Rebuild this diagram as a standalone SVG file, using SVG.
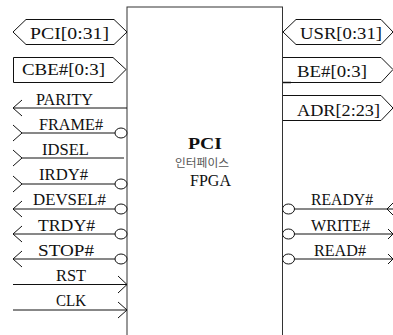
<svg xmlns="http://www.w3.org/2000/svg" width="393" height="335" viewBox="0 0 393 335">
<style>
text{font-family:"Liberation Serif","DejaVu Serif",serif;font-size:16.5px;fill:#111}
.l{fill:none;stroke:#111;stroke-width:1}
.b{fill:#fff;stroke:#111;stroke-width:1}
.k{font-family:"Noto Sans CJK KR",sans-serif;font-size:11.5px;fill:#555}
</style>
<g id="fpga"><rect x="127" y="7" width="155.500" height="340" fill="#fff" stroke="#333"/>
<text x="188" y="149" textLength="34" lengthAdjust="spacingAndGlyphs" style="font-weight:bold">PCI</text><text class="k" x="175" y="167" textLength="54" lengthAdjust="spacingAndGlyphs">인터페이스</text><text x="190" y="186" textLength="41" lengthAdjust="spacingAndGlyphs">FPGA</text></g>
<g id="connectors">
<path class="l" d="M127 108H13M22 100L13 108L22 116"/>
<path class="l" d="M13 125L22 133L13 141M22 133H116"/>
<path class="l" d="M13 150L22 158L13 166M22 158H124"/>
<path class="l" d="M13 176L22 184L13 192M22 184H116"/>
<path class="l" d="M116 209H13M22 201L13 209L22 217"/>
<path class="l" d="M116 234H13M22 226L13 234L22 242"/>
<path class="l" d="M116 259H13M22 251L13 259L22 267"/>
<path class="l" d="M13 284.500H127M118 276L127 284.500L118 293"/>
<path class="l" d="M13 310H127M118 302L127 310L118 318"/>
<path class="l" d="M294 209H393M393 203L387 209L393 215"/>
<path class="l" d="M294 234H393M388 229L393 234L388 239"/>
<path class="l" d="M294 259H393M388 254L393 259L388 264"/>
</g>
<g id="bubbles">
<ellipse class="b" cx="121" cy="133" rx="6" ry="5"/><ellipse class="b" cx="121" cy="184" rx="6" ry="5"/><ellipse class="b" cx="121" cy="209" rx="6" ry="5"/><ellipse class="b" cx="121" cy="234" rx="6" ry="5"/><ellipse class="b" cx="121" cy="259" rx="6" ry="5"/>
<ellipse class="b" cx="288.500" cy="209" rx="6" ry="5"/><ellipse class="b" cx="288.500" cy="234" rx="6" ry="5"/><ellipse class="b" cx="288.500" cy="259" rx="6" ry="5"/>
</g>
<g id="pci"><path class="b" d="M13 32L26 19.500H114L127 32L114 44.500H26Z"/><text x="30" y="39" textLength="79" lengthAdjust="spacingAndGlyphs">PCI[0:31]</text></g>
<g id="cbe"><path class="b" d="M13.500 57.500H113L126 69.500L113 82.500H13.500Z"/><text x="22" y="75" textLength="83" lengthAdjust="spacingAndGlyphs">CBE#[0:3]</text></g>
<g id="usr"><path class="b" d="M283 32L296 19.500H381L393 32L381 44.500H296Z"/><text x="300" y="39" textLength="82" lengthAdjust="spacingAndGlyphs">USR[0:31]</text></g>
<g id="be"><path class="b" d="M283 57.500H381L393 69.500L381 82.500H283"/><path d="M283 82.500H291" stroke="#111" stroke-width="1.500"/><text x="297" y="77" textLength="70" lengthAdjust="spacingAndGlyphs">BE#[0:3]</text></g>
<g id="adr"><path class="b" d="M283 95.500H381L393 108L381 120.500H283"/><text x="297" y="116" textLength="83" lengthAdjust="spacingAndGlyphs">ADR[2:23]</text></g>
<g id="labels">
<text x="36" y="105" textLength="57" lengthAdjust="spacingAndGlyphs">PARITY</text>
<text x="39" y="130" textLength="64" lengthAdjust="spacingAndGlyphs">FRAME#</text>
<text x="42" y="155" textLength="47" lengthAdjust="spacingAndGlyphs">IDSEL</text>
<text x="39" y="180" textLength="49" lengthAdjust="spacingAndGlyphs">IRDY#</text>
<text x="33" y="205" textLength="73" lengthAdjust="spacingAndGlyphs">DEVSEL#</text>
<text x="38" y="231" textLength="57" lengthAdjust="spacingAndGlyphs">TRDY#</text>
<text x="38" y="256" textLength="56" lengthAdjust="spacingAndGlyphs">STOP#</text>
<text x="56" y="281" textLength="30" lengthAdjust="spacingAndGlyphs">RST</text>
<text x="56" y="306" textLength="30" lengthAdjust="spacingAndGlyphs">CLK</text>
<text x="311" y="205" textLength="62" lengthAdjust="spacingAndGlyphs">READY#</text>
<text x="311" y="231" textLength="59" lengthAdjust="spacingAndGlyphs">WRITE#</text>
<text x="314" y="256" textLength="52" lengthAdjust="spacingAndGlyphs">READ#</text>
</g>
</svg>
